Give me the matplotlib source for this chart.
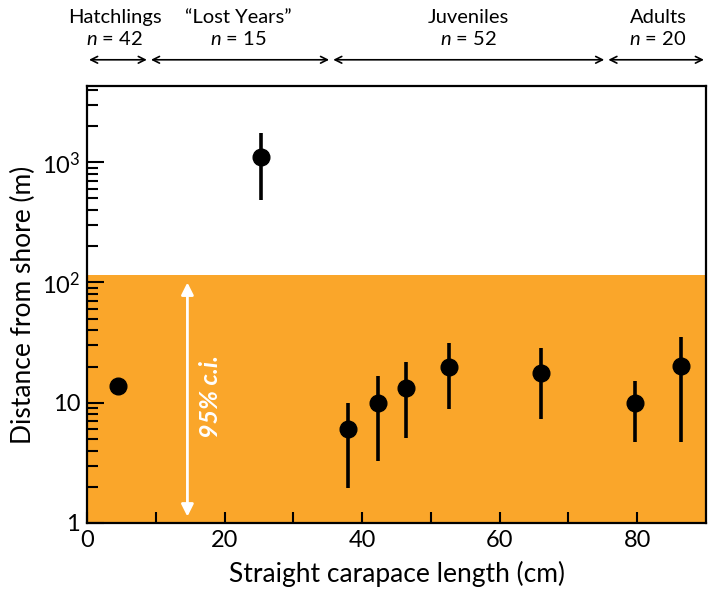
import numpy as np
import matplotlib; matplotlib.use("Agg")
import matplotlib.pyplot as plt
from matplotlib.ticker import FixedLocator, FixedFormatter, LogLocator, NullFormatter

plt.rcParams["font.family"] = ["Lato", "DejaVu Sans"]
plt.rcParams["mathtext.fontset"] = "custom"
plt.rcParams["mathtext.rm"] = "Lato"
plt.rcParams["mathtext.it"] = "Lato:italic"

# data
scl = [4.5, 25.3, 38.0, 42.3, 46.4, 52.6, 66.0, 79.7, 86.4]
dist = [13.8, 1115, 6.0, 10.0, 13.3, 19.9, 17.7, 10.0, 20.2]
ci_hi = [13.8, 1760, 10.0, 16.8, 21.6, 31.1, 28.3, 15.2, 35.3]
ci_lo = [13.8, 481, 1.97, 3.3, 5.1, 8.9, 7.3, 4.7, 4.7]

band_top = 115
stages = ["Hatchlings", "\u201cLost Years\u201d", "Juveniles", "Adults"]
stage_n = [42, 15, 52, 20]
stage_edges = [0, 9, 35.5, 75.5, 90]
stage_label_x = [4, 22, 55.5, 83]

fig = plt.figure(figsize=(7.09, 5.96), dpi=100)
ax = fig.add_axes([0.1227, 0.1225, 0.8731, 0.7332])

ax.axhspan(1, band_top, color="#FAA62A", lw=0, zorder=0)

x = np.array(scl); y = np.array(dist)
yerr = np.vstack([y - np.array(ci_lo), np.array(ci_hi) - y])
ax.errorbar(x, y, yerr=yerr, fmt="o", color="black", ms=12, elinewidth=2.6,
            capsize=0, zorder=3)

ax.set_yscale("log")
ax.set_xlim(0, 90); ax.set_ylim(1, 4300)

# white double arrow + 95% c.i.
ax.annotate("", xy=(14.6, 1.13), xytext=(14.6, 100),
            arrowprops=dict(arrowstyle="<|-|>", color="white", lw=2,
                            mutation_scale=18, shrinkA=0, shrinkB=0))
ax.text(18.0, 11.2, "95% c.i.", rotation=90, color="white", fontsize=18,
        fontstyle="italic", fontweight="bold", ha="center", va="center")

ax.yaxis.set_major_locator(FixedLocator([1, 10, 100, 1000]))
ax.yaxis.set_major_formatter(FixedFormatter(["1", "10", r"$10^2$", r"$10^3$"]))
ax.yaxis.set_minor_locator(LogLocator(base=10, subs=np.arange(2, 10)))
ax.yaxis.set_minor_formatter(NullFormatter())
ax.set_xticks([0, 20, 40, 60, 80])
ax.set_xticks(np.arange(10, 90, 20), minor=True)

ax.tick_params(which="both", direction="in", width=1.5, labelsize=17, pad=5)
ax.tick_params(axis="y", which="major", length=12)
ax.tick_params(axis="y", which="minor", length=8)
ax.tick_params(axis="x", which="both", length=8)
for s in ax.spines.values():
    s.set_linewidth(1.6)

ax.set_xlabel("Straight carapace length (cm)", fontsize=19, labelpad=7)
ax.set_ylabel("Distance from shore (m)", fontsize=19, labelpad=4)

# life stage arrows and labels above the axes
tr = ax.get_xaxis_transform()
for i in range(4):
    ax.annotate("", xy=(stage_edges[i] + 0.3, 1.06), xytext=(stage_edges[i + 1] - 0.3, 1.06),
                xycoords=tr, textcoords=tr, annotation_clip=False,
                arrowprops=dict(arrowstyle="<->", color="black", lw=1.2,
                                mutation_scale=12, shrinkA=0, shrinkB=0))
    ax.text(stage_label_x[i], 1.157, stages[i], transform=tr, ha="center", va="center", fontsize=14.5)
    ax.text(stage_label_x[i], 1.107, rf"$n$ = {stage_n[i]}", transform=tr, ha="center",
            va="center", fontsize=14.5)

fig.savefig("out.png", dpi=100)
